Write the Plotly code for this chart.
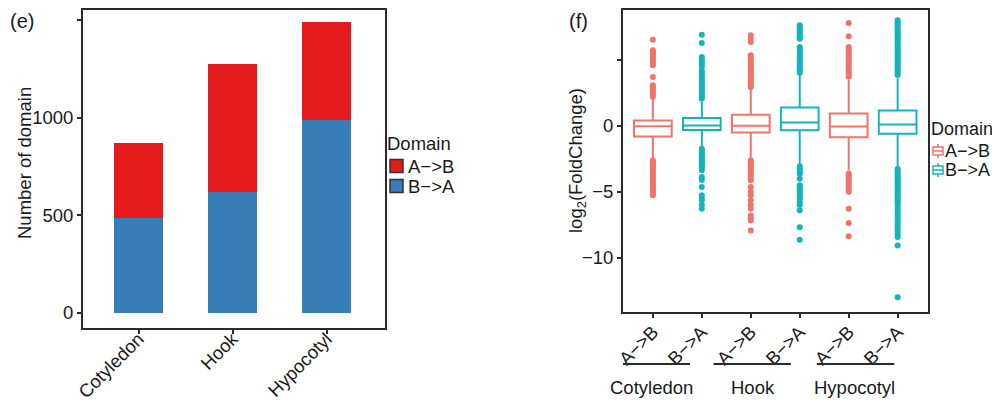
import plotly.graph_objects as go

# ---------------- data ----------------
tissues = ["Cotyledon", "Hook", "Hypocotyl"]
count_BA = [490, 625, 990]
count_AB = [385, 652, 502]

domains = ["A−>B", "B−>A"]
box_labels = ["A−>B", "B−>A", "A−>B", "B−>A", "A−>B", "B−>A"]
# precomputed box stats per tissue
ab_q1 = [-0.80, -0.50, -0.85]
ab_med = [-0.02, 0.01, -0.04]
ab_q3 = [0.41, 0.86, 0.95]
ab_lo = [-2.48, -2.38, -3.37]
ab_hi = [2.10, 2.75, 3.50]

ba_q1 = [-0.31, -0.33, -0.58]
ba_med = [0.03, 0.27, 0.11]
ba_q3 = [0.61, 1.40, 1.17]
ba_lo = [-1.62, -2.95, -3.12]
ba_hi = [1.85, 3.86, 3.62]

out_cot_ab = [6.56, 5.75, 5.6, 5.45, 5.3, 5.1, 4.95, 4.8, 4.62, 3.72, 3.1, 2.95, 2.8, 2.65, 2.5, 2.35, 2.22,
              -2.62, -2.75, -2.9, -3.05, -3.2, -3.35, -3.5, -3.65, -3.8, -3.95, -4.1, -4.25, -4.4, -4.55,
              -4.7, -4.85, -5.0, -5.15, -5.27]
out_cot_ba = [6.94, 6.31, 5.24, 5.1, 4.95, 4.8, 4.65, 4.5, 4.2, 4.05, 3.9, 3.75, 3.6, 3.45, 3.3, 3.15, 3.0,
              2.85, 2.7, 2.55, 2.4, 2.25, 2.07,
              -1.72, -1.85, -2.0, -2.15, -2.3, -2.45, -2.6, -2.75, -2.9, -3.05, -3.2, -3.37, -3.88, -4.1,
              -4.64, -5.27, -5.5, -5.65, -6.0, -6.28]
out_hook_ab = [6.89, 6.6, 6.38, 5.37, 5.2, 5.05, 4.9, 4.75, 4.6, 4.45, 4.3, 4.15, 4.0, 3.85, 3.7, 3.55, 3.4,
               3.25, 3.1, 2.95,
               -2.6, -2.75, -2.9, -3.05, -3.2, -3.35, -3.5, -3.65, -3.8, -3.95, -4.13, -4.64, -5.0, -5.27,
               -5.65, -6.0, -6.29, -6.79, -7.0, -7.17, -7.93]
out_hook_ba = [7.65, 7.5, 7.35, 7.2, 7.05, 6.9, 6.75, 6.63, 6.0, 5.85, 5.7, 5.55, 5.4, 5.25, 5.1, 4.95, 4.8,
               4.65, 4.5, 4.35, 4.2, 4.05,
               -3.05, -3.2, -3.35, -3.5, -3.62, -4.0, -4.5, -4.65, -4.8, -4.95, -5.1, -5.25, -5.4, -5.55,
               -5.8, -6.0, -6.4, -7.7, -8.64]
out_hyp_ab = [7.83, 6.81, 6.0, 5.85, 5.7, 5.55, 5.4, 5.25, 5.1, 4.95, 4.8, 4.65, 4.5, 4.35, 4.2, 4.05, 3.9, 3.75,
              -3.6, -3.75, -3.9, -4.05, -4.2, -4.35, -4.5, -4.65, -4.8, -5.0, -6.28, -7.37, -8.38]
out_hyp_ba = [8.03, 7.88, 7.73, 7.58, 7.43, 7.28, 7.13, 6.98, 6.83, 6.68, 6.53, 6.38, 6.23, 6.08, 5.93, 5.78,
              5.63, 5.48, 5.33, 5.18, 5.03, 4.88, 4.73, 4.58, 4.43, 4.28, 4.13, 3.98, 3.88,
              -3.26, -3.4, -3.55, -3.7, -3.85, -4.0, -4.15, -4.3, -4.45, -4.6, -4.75, -4.9, -5.05, -5.2, -5.35,
              -5.5, -5.65, -5.8, -5.95, -6.2, -6.4, -6.6, -6.8, -7.0, -7.2, -7.4, -7.6, -7.8, -8.0, -8.2,
              -8.43, -9.07, -13.0]

# ---------------- style ----------------
RED_BAR = "#E41A1C"
BLUE_BAR = "#377EB8"
RED_BOX = "#F0746B"
TEAL_BOX = "#16B4B8"
FONT = "Arial, Liberation Sans, sans-serif"
TXT = "#1a1a1a"
FRAME = "#2b2b2b"
FS = 18.5

# page body has an 8px margin: figure is sized so that it fills the 1000x401 window
OFF = 8
W, H = 1000 - OFF, 401 - OFF
def px(x):
    return (x - OFF) / W
def py(y):
    return min(1.0, max(0.0, (401 - y) / H))

fig = go.Figure()

# ---- panel (e): stacked bars ----
fig.add_trace(go.Bar(x=tissues, y=count_BA, name=domains[1], marker=dict(color=BLUE_BAR, line=dict(width=0)),
                     width=0.52, showlegend=False, xaxis="x", yaxis="y"))
fig.add_trace(go.Bar(x=tissues, y=count_AB, name=domains[0], marker=dict(color=RED_BAR, line=dict(width=0)),
                     width=0.52, showlegend=False, xaxis="x", yaxis="y"))

# ---- panel (f): boxes ----
ab_x = [0, 2, 4]
ba_x = [1, 3, 5]
fig.add_trace(go.Box(x=ab_x, q1=ab_q1, median=ab_med, q3=ab_q3, lowerfence=ab_lo, upperfence=ab_hi,
                     width=0.77, whiskerwidth=0, fillcolor="white", line=dict(color=RED_BOX, width=2),
                     boxpoints=False, name=domains[0], showlegend=False, xaxis="x2", yaxis="y2"))
fig.add_trace(go.Box(x=ba_x, q1=ba_q1, median=ba_med, q3=ba_q3, lowerfence=ba_lo, upperfence=ba_hi,
                     width=0.77, whiskerwidth=0, fillcolor="white", line=dict(color=TEAL_BOX, width=2),
                     boxpoints=False, name=domains[1], showlegend=False, xaxis="x2", yaxis="y2"))

outliers = [(0, out_cot_ab, RED_BOX), (1, out_cot_ba, TEAL_BOX),
            (2, out_hook_ab, RED_BOX), (3, out_hook_ba, TEAL_BOX),
            (4, out_hyp_ab, RED_BOX), (5, out_hyp_ba, TEAL_BOX)]
for xpos, vals, col in outliers:
    fig.add_trace(go.Scatter(x=[xpos] * len(vals), y=vals, mode="markers",
                             marker=dict(size=6, color=col), showlegend=False,
                             xaxis="x2", yaxis="y2"))

axis_common = dict(showline=True, mirror=True, linecolor=FRAME, linewidth=2, ticks="outside",
                   ticklen=4, tickwidth=1.5, tickcolor=FRAME, showgrid=False, zeroline=False,
                   automargin=False, tickfont=dict(family=FONT, size=FS, color=TXT))

fig.update_layout(
    width=W, height=H, margin=dict(l=0, r=0, t=0, b=0),
    paper_bgcolor="white", plot_bgcolor="white", barmode="stack", bargap=0, showlegend=False,
    font=dict(family=FONT, color=TXT),
    xaxis=dict(domain=[px(83), px(385)], range=[-0.59, 2.62], tickangle=-45, anchor="y",
               ticklabelstandoff=-13, **axis_common),
    yaxis=dict(domain=[py(328), py(9.5)], range=[-77, 1556], anchor="x",
               tickvals=[0, 500, 1000, 1500], ticktext=["0", "500", "1000", ""], **axis_common),
    xaxis2=dict(domain=[px(623), px(928)], range=[-0.61, 5.62], tickvals=[0, 1, 2, 3, 4, 5], anchor="y2",
                ticktext=box_labels, tickangle=-45, ticklabelstandoff=-4, **axis_common),
    yaxis2=dict(domain=[py(312), py(9.5)], range=[-14.13, 8.85], anchor="x2",
                tickvals=[-10, -5, 0, 5], ticktext=["−10", "−5", "0", ""], **axis_common),
)

def text(t, x, y, size=FS, xanchor="left", angle=0, xref="paper", yanchor="middle"):
    fig.add_annotation(text=t, xref=xref, yref="paper", x=x, y=y, xanchor=xanchor, yanchor=yanchor,
                       showarrow=False, textangle=angle, font=dict(family=FONT, size=size, color=TXT))

# panel tags and axis titles
text("(e)", px(8), 1.0, size=20, yanchor="top")
text("(f)", px(567), 1.0, size=20, yanchor="top")
text("Number of domain", px(24), py(163), xanchor="center", angle=-90)
text("log<sub>2</sub>(FoldChange)", px(577), py(161), xanchor="center", angle=-90)

# legend (e): filled squares
text("Domain", px(385), py(143))
for i, (lab, col) in enumerate(zip(domains, [RED_BAR, BLUE_BAR])):
    cy = 166 + 20 * i
    fig.add_shape(type="rect", xref="paper", yref="paper", x0=px(390), x1=px(403), y0=py(cy + 6.5),
                  y1=py(cy - 6.5), fillcolor=col, line=dict(color="#333", width=1.5))
    text(lab, px(406), py(cy))

# legend (f): boxplot keys
text("Domain", px(929), py(129), size=18)
for i, (lab, col) in enumerate(zip(domains, [RED_BOX, TEAL_BOX])):
    cy = 151 + 19 * i
    fig.add_shape(type="line", xref="paper", yref="paper", x0=px(938), x1=px(938), y0=py(cy + 7),
                  y1=py(cy - 7), line=dict(color=col, width=1.5))
    fig.add_shape(type="rect", xref="paper", yref="paper", x0=px(933), x1=px(943), y0=py(cy + 4),
                  y1=py(cy - 4), fillcolor="white", line=dict(color=col, width=1.5))
    fig.add_shape(type="line", xref="paper", yref="paper", x0=px(933), x1=px(943), y0=py(cy),
                  y1=py(cy), line=dict(color=col, width=1.5))
    text(lab, px(943), py(cy), size=18)

# group labels under panel (f)
groups = [("Cotyledon", -0.82, 0.76, -0.03), ("Hook", 1.24, 2.82, 2.05), ("Hypocotyl", 3.35, 4.93, 4.12)]
for name, x0, x1, xc in groups:
    fig.add_shape(type="line", xref="x2", yref="paper", x0=x0, x1=x1, y0=py(364), y1=py(364),
                  line=dict(color=FRAME, width=2))
    text(name, xc, py(387), xanchor="center", xref="x2")

fig.write_html("out.html")
